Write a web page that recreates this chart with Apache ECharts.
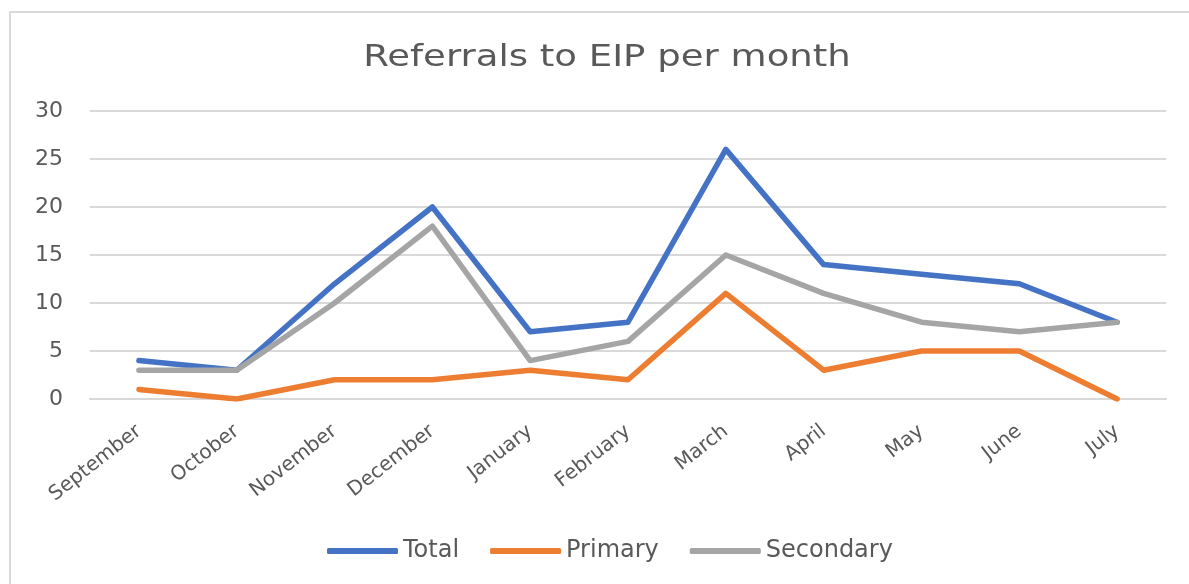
<!DOCTYPE html>
<html><head><meta charset="utf-8">
<script src="https://cdn.jsdelivr.net/npm/echarts@6/dist/echarts.min.js"></script>
<style>html,body{margin:0;padding:0;background:#fff}#c{width:1189px;height:584px}</style>
</head><body><div id="c"></div>
<script>
const categories = ['September','October','November','December','January','February','March','April','May','June','July'];
const total = [4, 3, 12, 20, 7, 8, 26, 14, 13, 12, 8];
const primary = [1, 0, 2, 2, 3, 2, 11, 3, 5, 5, 0];
const secondary = [3, 3, 10, 18, 4, 6, 15, 11, 8, 7, 8];
const titleText = 'Referrals to EIP per month';
const FONT = '"DejaVu Sans", sans-serif';
const chart = echarts.init(document.getElementById('c'));
function s(name, data, color) {
  return { name, type: 'line', data, symbol: 'none', lineStyle: { width: 5.5, color, cap: 'round', join: 'round' }, itemStyle: { color } };
}
chart.setOption({
  animation: false,
  graphic: [
    { type: 'rect', shape: { x: 10, y: 12, width: 1300, height: 700 }, style: { fill: 'none', stroke: '#d9d9d9', lineWidth: 2 }, silent: true },
    { type: 'text', x: 607, y: 58, scaleX: 1.235, style: { text: titleText, fontFamily: FONT, fontSize: 30, fill: '#595959', align: 'center', verticalAlign: 'middle' }, silent: true }
  ],
  legend: { top: 539, left: 327, padding: 0, itemWidth: 71, itemHeight: 6, itemGap: 31, icon: 'roundRect', textStyle: { fontFamily: FONT, fontSize: 24, color: '#595959' }, data: ['Total','Primary','Secondary'] },
  grid: { left: 90, right: 23, top: 111, bottom: 185, containLabel: false },
  xAxis: { type: 'category', data: categories, boundaryGap: true,
    axisLine: { lineStyle: { color: '#d9d9d9', width: 2 } }, axisTick: { show: false },
    axisLabel: { rotate: 38, fontFamily: FONT, fontSize: 20, color: '#595959', margin: 30, interval: 0 } },
  yAxis: { type: 'value', min: 0, max: 30, interval: 5,
    axisLine: { show: false }, axisTick: { show: false },
    splitLine: { lineStyle: { color: '#d9d9d9', width: 2 } },
    axisLabel: { fontFamily: FONT, fontSize: 22, color: '#595959', margin: 27 } },
  series: [s('Total', total, '#4472C4'), s('Primary', primary, '#ED7D31'), s('Secondary', secondary, '#A5A5A5')]
});
</script></body></html>
